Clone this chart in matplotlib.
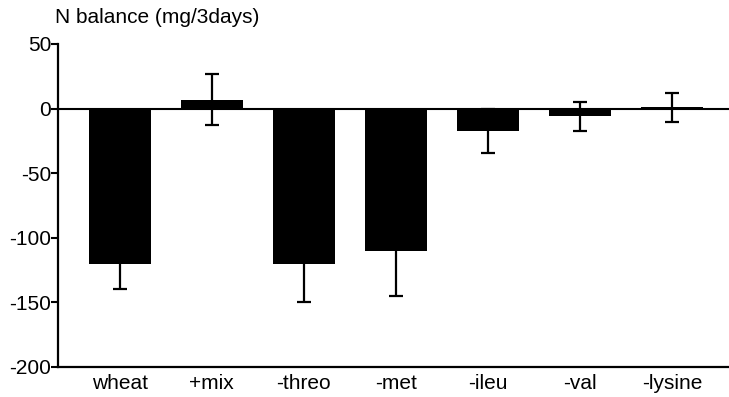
import matplotlib.pyplot as plt

# N balance per diet (mg/3days)
dietas = ['wheat', '+mix', '-threo', '-met', '-ileu', '-val', '-lysine']
balanco = [-120, 7, -120, -110, -17, -6, 1]
erro = [20, 20, 30, 35, 17, 11, 11]

plt.rcParams['font.family'] = ['Liberation Sans', 'DejaVu Sans']
plt.rcParams['axes.unicode_minus'] = False

fig = plt.figure(figsize=(7.29, 3.97), dpi=100)
ax = fig.add_axes([58 / 729, 30 / 397, 1 - 58 / 729, 323 / 397])

x = range(len(dietas))
ax.bar(x, balanco, width=0.67, color='black')
ax.errorbar(x, balanco, yerr=erro, fmt='none', ecolor='black',
            elinewidth=1.6, capsize=5, capthick=1.6)
ax.axhline(0, color='black', linewidth=1.5)

ax.set_xlim(-0.67, 6.62)
ax.set_ylim(-200, 50)
ax.set_yticks([50, 0, -50, -100, -150, -200])
ax.set_xticks(list(x))
ax.set_xticklabels(dietas)

ax.spines['top'].set_visible(False)
ax.spines['right'].set_visible(False)
ax.spines['left'].set_linewidth(1.6)
ax.spines['bottom'].set_linewidth(1.6)
ax.tick_params(axis='y', direction='out', length=5, width=1.5, pad=0, labelsize=15)
ax.tick_params(axis='x', length=0, pad=5, labelsize=15)

fig.text(55 / 729, 1 - 8 / 397, 'N balance (mg/3days)', fontsize=15, ha='left', va='top')

fig.savefig('out.png', dpi=100)
